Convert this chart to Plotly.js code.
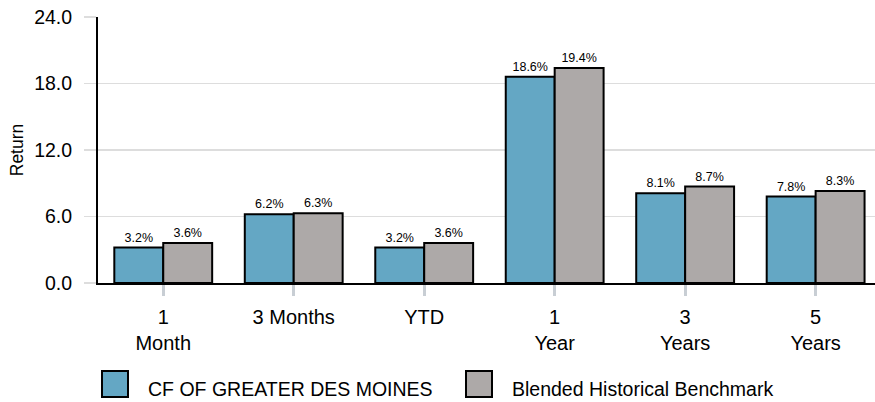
<!DOCTYPE html>
<html>
<head>
<meta charset="utf-8">
<script src="https://cdn.plot.ly/plotly-3.0.1.min.js"></script>
<style>
  html, body { margin: 0; padding: 0; background: #ffffff; }
  #chart { width: 875px; height: 402px; }
</style>
</head>
<body>
<div id="chart"></div>
<script>
// ---- data ----
const categories = ["1<br>Month", "3 Months", "YTD", "1<br>Year", "3<br>Years", "5<br>Years"];
const seriesNames = ["CF OF GREATER DES MOINES", "Blended Historical Benchmark"];
const fundReturns = [3.2, 6.2, 3.2, 18.6, 8.1, 7.8];
const benchmarkReturns = [3.6, 6.3, 3.6, 19.4, 8.7, 8.3];
const yTickValues = [0, 6, 12, 18, 24];
const yTickLabels = ["0.0", "6.0", "12.0", "18.0", "24.0"];
const yAxisTitle = "Return";

// ---- style ----
const FONT = "'Liberation Sans Narrow', 'Arial Narrow', 'Liberation Sans', Arial, sans-serif";
const colors = ["#64A7C4", "#ADA9A8"];
const W = 875, H = 402;
const M = { l: 98, r: 0, t: 17, b: 119 };
const PW = W - M.l - M.r, PH = H - M.t - M.b;
const px2x = (px) => (px - M.l) / PW;
const px2y = (py) => (H - M.b - py) / PH;

const xIdx = categories.map((_, i) => i);

function barTrace(vals, i) {
  return {
    type: "bar",
    name: seriesNames[i],
    x: xIdx,
    y: vals,
    marker: { color: colors[i], line: { color: "#000000", width: 2 } },
    text: vals.map(v => v.toFixed(1) + "%"),
    textposition: "outside",
    textfont: { family: FONT, size: 12.5, color: "#000000" },
    cliponaxis: false,
    hoverinfo: "skip",
    showlegend: false
  };
}

const data = [barTrace(fundReturns, 0), barTrace(benchmarkReturns, 1)];

// legend drawn as shapes + annotations
const legendItems = [
  { box: [102, 128], textX: 146 },
  { box: [466, 492], textX: 510 }
];
const shapes = [];
const annotations = [];
legendItems.forEach((it, i) => {
  shapes.push({
    type: "rect", xref: "paper", yref: "paper",
    x0: px2x(it.box[0]), x1: px2x(it.box[1]),
    y0: px2y(371), y1: px2y(397),
    fillcolor: colors[i], line: { color: "#000000", width: 2 }
  });
  annotations.push({
    xref: "paper", yref: "paper",
    x: px2x(it.textX), y: px2y(389),
    xanchor: "left", yanchor: "middle",
    text: seriesNames[i], showarrow: false,
    font: { family: FONT, size: 19.5, color: "#000000" }
  });
});

const layout = {
  width: W, height: H,
  margin: M,
  paper_bgcolor: "#ffffff",
  plot_bgcolor: "#ffffff",
  font: { family: FONT, size: 19.5, color: "#000000" },
  barmode: "group",
  bargap: 0.25,
  bargroupgap: 0,
  showlegend: false,
  xaxis: {
    type: "linear",
    range: [-0.5, 5.455],
    tickmode: "array",
    tickvals: xIdx,
    ticktext: categories,
    ticks: "outside",
    ticklen: 11,
    tickwidth: 3,
    tickcolor: "#C8CED4",
    showgrid: false,
    zeroline: false,
    showline: true,
    linecolor: "#000000",
    linewidth: 2,
    tickfont: { family: FONT, size: 20, color: "#000000" },
    ticklabelstandoff: 4
  },
  yaxis: {
    range: [0, 24],
    tickmode: "array",
    tickvals: yTickValues,
    ticktext: yTickLabels,
    ticks: "outside",
    ticklen: 12,
    tickwidth: 1.5,
    tickcolor: "#DDDDDD",
    showgrid: true,
    gridcolor: "#DDDDDD",
    gridwidth: 1.5,
    zeroline: false,
    showline: true,
    linecolor: "#000000",
    linewidth: 2,
    tickfont: { family: FONT, size: 19.5, color: "#000000" },
    ticklabelstandoff: 8,
    title: { text: yAxisTitle, font: { family: FONT, size: 17.5, color: "#000000" }, standoff: 6 }
  },
  shapes: shapes,
  annotations: annotations
};

Plotly.newPlot("chart", data, layout, { staticPlot: true, displayModeBar: false });
</script>
</body>
</html>
